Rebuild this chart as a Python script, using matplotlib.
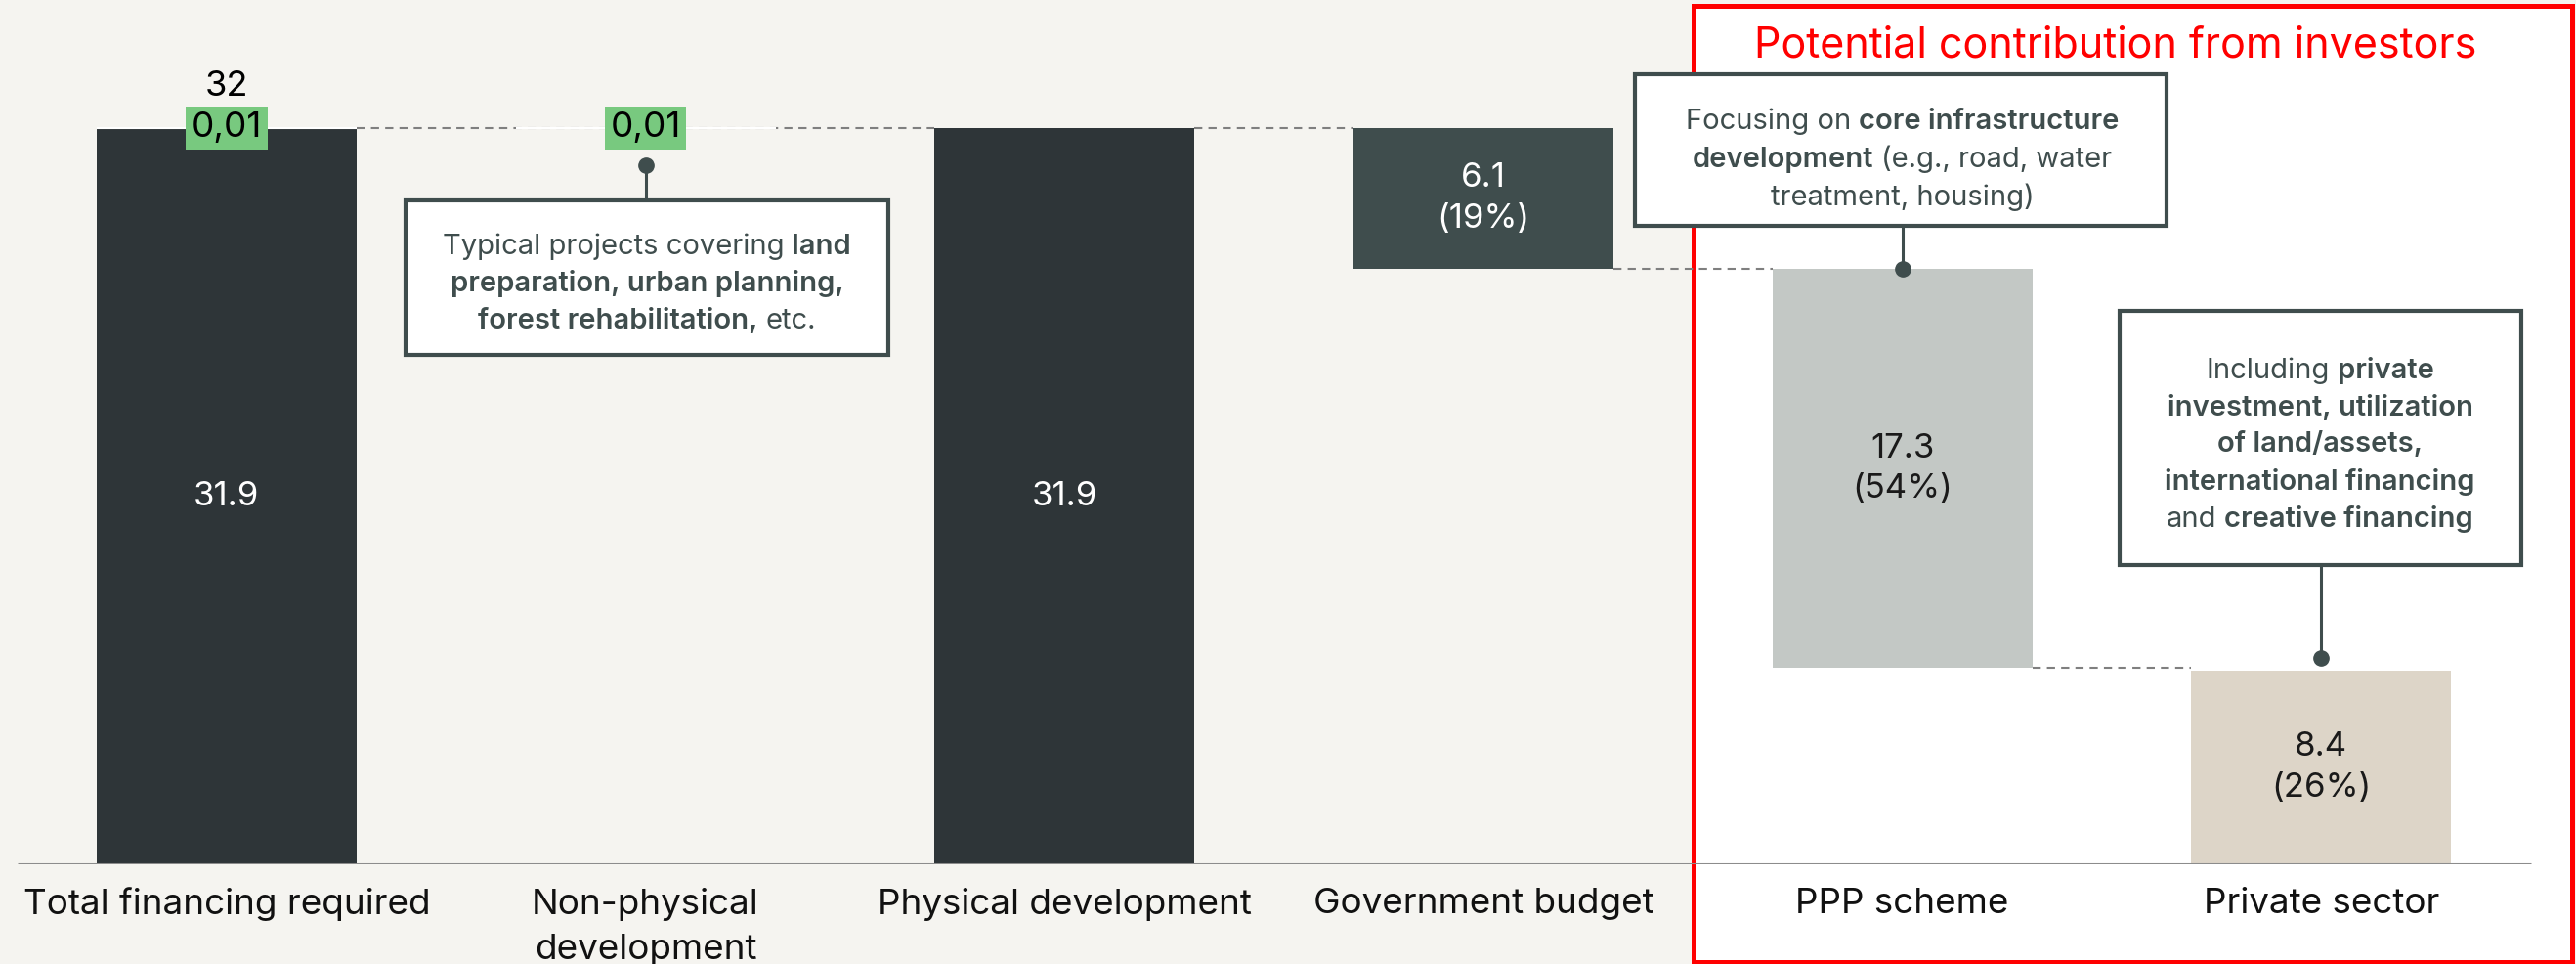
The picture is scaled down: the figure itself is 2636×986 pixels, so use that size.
import numpy as np
import matplotlib.pyplot as plt
from matplotlib.patches import Rectangle
from matplotlib.offsetbox import TextArea, HPacker, VPacker, AnnotationBbox

plt.rcParams['font.family'] = ['Inter', 'DejaVu Sans']

# data
categories = ["Total financing required", "Non-physical\ndevelopment", "Physical development",
              "Government budget", "PPP scheme", "Private sector"]
values = [31.9, 0.01, 31.9, 6.1, 17.3, 8.4]
value_labels = ["31.9", "0,01", "31.9", "6.1", "17.3", "8.4"]
shares = ["", "", "", "(19%)", "(54%)", "(26%)"]
total_label = "32"
small_label = "0,01"
title = "Potential contribution from investors"

note_nonphysical = [[("Typical projects covering", "normal"), ("land", "semibold")],
                    [("preparation, urban planning,", "semibold")],
                    [("forest rehabilitation,", "semibold"), ("etc.", "normal")]]
note_ppp = [[("Focusing on", "normal"), ("core infrastructure", "semibold")],
            [("development", "semibold"), ("(e.g., road, water", "normal")],
            [("treatment, housing)", "normal")]]
note_private = [[("Including", "normal"), ("private", "semibold")],
                [("investment, utilization", "semibold")],
                [("of land/assets,", "semibold")],
                [("international financing", "semibold")],
                [("and", "normal"), ("creative financing", "semibold")]]

bar_colors = ["#2e3538", "#ffffff", "#2e3538", "#3f4d4d", "#c3c8c5", "#ddd5c8"]
label_colors = ["white", "black", "white", "white", "#1a1a1a", "#1a1a1a"]
bg = "#f5f4f0"
slate = "#3f4d4d"

# waterfall bottoms
bottoms = [0, values[0], 0, values[2] - values[3], values[2] - values[3] - values[4], 0]
x = np.arange(len(categories))
W = 0.62

fig = plt.figure(figsize=(26.36, 9.86), dpi=100, facecolor=bg)
ax = fig.add_axes([0, 102 / 986, 1, 884 / 986])
ax.set_facecolor("none")
ax.set_xlim(-0.541, 5.608)
ax.set_ylim(0, 37.46)
for s in ax.spines.values():
    s.set_visible(False)
ax.set_yticks([])

# red frame
ax.add_patch(Rectangle((3.501, -4.24), 2.097, 41.44, fc="white", ec="#ff0000",
                       lw=3.6, clip_on=False, zorder=0))
ax.text(4.509, 35.45, title, color="#ff0000", fontsize=31, ha="center", va="center")

# bars
ax.bar(x, values, bottom=bottoms, width=W, color=bar_colors, zorder=2)
ax.bar(x[1], values[1], bottom=bottoms[1], width=W, color="white", ec="white", lw=1.5, zorder=2)
ax.bar(x[0], values[1], bottom=values[0], width=W, color="white", ec="white", lw=1.5, zorder=2)

# connectors
dash = dict(colors="#7f7f7f", lw=1.5, linestyles=(0, (4, 3)), zorder=1.5)
ax.hlines(values[0] + values[1], x[0] + W / 2, x[2] - W / 2, **dash)
for i in [2, 3, 4]:
    y = bottoms[i] if i > 2 else values[i]
    ax.hlines(y, x[i] + W / 2, x[i + 1] - W / 2, **dash)

ax.hlines(0, -0.5, 5.5, colors="#8c8c8c", lw=2.2, zorder=3)

# value labels
for i in [0, 2, 3, 4, 5]:
    txt = value_labels[i] if not shares[i] else value_labels[i] + "\n" + shares[i]
    ax.text(x[i], bottoms[i] + values[i] / 2, txt, ha="center", va="center",
            fontsize=25, color=label_colors[i], linespacing=1.38, zorder=4)

for i in [0, 1]:
    ax.text(x[i], values[0] + values[1], small_label, ha="center", va="center", fontsize=26.5,
            color="black", zorder=5,
            bbox=dict(boxstyle="square,pad=0.15", fc="#78c97f", ec="none"))
ax.text(x[0], 33.7, total_label, ha="center", va="center", fontsize=26, color="black")

ax.set_xticks(x)
ax.set_xticklabels(categories, fontsize=26.5, color="#111111", linespacing=1.5)
ax.tick_params(axis="x", length=0, pad=17)


def callout(cx, x0, x1, y0, y1, lines, dot_x, dot_y, top_line, shift):
    ax.add_patch(Rectangle((x0, y0), x1 - x0, y1 - y0, fc="white", ec=slate, lw=3, zorder=6))
    rows = []
    for line in lines:
        parts = [TextArea(t, textprops=dict(fontsize=21, color=slate, fontweight=w)) for t, w in line]
        rows.append(HPacker(children=parts, align="baseline", pad=0, sep=5.5))
    box = VPacker(children=rows, align="center", pad=0, sep=7.5)
    ab = AnnotationBbox(box, (cx, (y0 + y1) / 2 - shift), xycoords="data", frameon=False,
                        box_alignment=(0.5, 0.5), zorder=7)
    ax.add_artist(ab)
    ystart = y1 if top_line else y0
    ax.plot([dot_x, dot_x], [ystart, dot_y], color=slate, lw=2.2, zorder=5)
    ax.plot(dot_x, dot_y, "o", color=slate, ms=11, zorder=5)


callout(1.003, 0.427, 1.579, 22.08, 28.77, note_nonphysical, 1.0, 30.3, True, 0.25)
callout(4.0, 3.361, 4.630, 27.67, 34.24, note_ppp, 4.0, bottoms[4] + values[4], False, 0.4)
callout(4.997, 4.518, 5.477, 12.97, 23.98, note_private, 5.0, 8.94, False, 0.3)

fig.savefig("out.png", dpi=100, facecolor=bg)
